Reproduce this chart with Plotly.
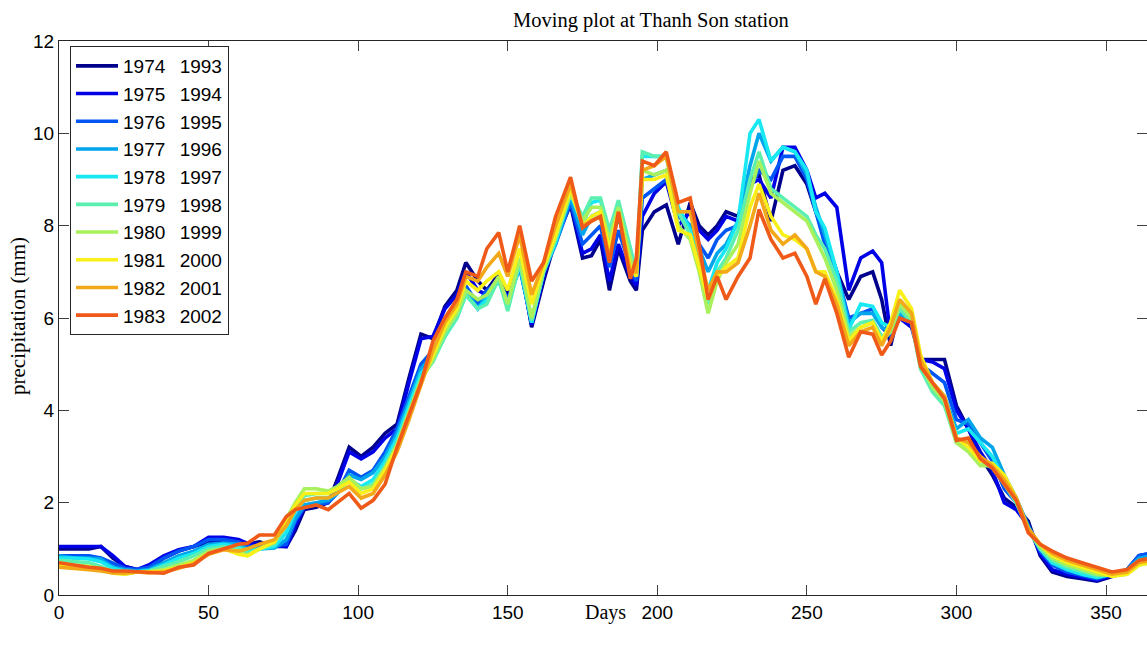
import plotly.graph_objects as go

DAYS = [0, 5, 10, 14, 18, 22, 26, 30, 35, 40,
        45, 50, 55, 60, 63, 67, 72, 76, 79, 82,
        86, 90, 93, 97, 101, 105, 109, 113, 117, 121,
        125, 129, 133, 136, 140, 143, 147, 150, 154, 158,
        162, 166, 171, 175, 178, 181, 184, 187, 191, 193,
        195, 199, 203, 207, 211, 214, 217, 220, 223, 227,
        231, 234, 238, 242, 246, 250, 253, 256, 260, 264,
        268, 272, 275, 278, 281, 285, 288, 292, 296, 300,
        304, 308, 312, 316, 320, 324, 328, 332, 337, 342,
        347, 352, 357, 361, 365]

Y1974 = [1.0, 1.0, 1.0, 1.05, 0.8, 0.62, 0.55, 0.55, 0.8, 0.95,
         1.05, 1.15, 1.2, 1.15, 1.1, 1.15, 1.05, 1.05, 1.4, 1.85,
         1.9, 2.0, 2.5, 3.2, 3.0, 3.2, 3.5, 3.7, 4.7, 5.65,
         5.55, 6.25, 6.6, 7.2, 6.8, 6.6, 6.95, 6.5, 7.25, 5.8,
         6.8, 7.7, 8.45, 7.3, 7.35, 7.7, 6.6, 7.5, 6.8, 6.6,
         7.9, 8.3, 8.45, 7.6, 8.5, 8.0, 7.8, 8.0, 8.3, 8.2,
         9.0, 9.1, 8.1, 9.2, 9.3, 8.9, 8.3, 7.8, 7.0, 6.4,
         6.9, 7.0, 6.4, 5.4, 6.2, 5.9, 5.1, 5.1, 5.1, 4.1,
         3.6, 3.0, 2.6, 2.1, 1.9, 1.6, 0.85, 0.5, 0.4, 0.35,
         0.3, 0.4, 0.5, 0.8, 0.85]
Y1975 = [1.05, 1.05, 1.05, 1.05, 0.85, 0.62, 0.55, 0.65, 0.85, 0.98,
         1.05, 1.25, 1.25, 1.2, 1.12, 1.1, 1.08, 1.05, 1.5, 1.9,
         1.95, 2.0, 2.4, 3.1, 2.95, 3.1, 3.4, 3.6, 4.6, 5.55,
         5.6, 6.2, 6.5, 7.0, 6.6, 6.5, 6.9, 6.4, 7.2, 5.85,
         6.9, 7.7, 8.5, 7.4, 7.5, 7.8, 6.8, 7.6, 6.9, 6.7,
         8.2, 8.7, 8.95, 8.0, 8.3, 7.9, 7.7, 7.9, 8.2, 8.1,
         8.9, 9.0, 8.6, 9.7, 9.7, 9.2, 8.6, 8.7, 8.4, 6.6,
         7.3, 7.45, 7.2, 5.6, 6.0, 5.8, 5.1, 5.05, 4.9, 4.0,
         3.6, 3.1, 2.7, 2.0, 1.85, 1.5, 0.9, 0.55, 0.45, 0.38,
         0.32, 0.42, 0.55, 0.85, 0.9]
Y1976 = [0.85, 0.85, 0.85, 0.8, 0.68, 0.58, 0.55, 0.6, 0.8, 0.95,
         1.05, 1.2, 1.2, 1.15, 1.05, 1.05, 1.05, 1.1, 1.6, 1.9,
         1.95, 2.0, 2.2, 2.7, 2.55, 2.7, 3.1, 3.6, 4.3, 5.0,
         5.3, 5.8, 6.2, 6.7, 6.3, 6.6, 6.8, 6.4, 7.1, 5.9,
         7.0, 7.6, 8.5, 7.6, 7.8, 8.0, 7.1, 7.9, 7.1, 6.8,
         8.6, 8.8, 9.0, 8.2, 8.0, 7.6, 7.3, 7.7, 7.9, 8.0,
         8.8, 9.2, 9.0, 9.5, 9.5, 9.0, 8.3, 7.6, 7.0, 6.0,
         6.1, 6.2, 5.8, 5.6, 6.0, 5.9, 5.0, 4.8, 4.6, 3.8,
         3.7, 3.3, 2.9, 2.3, 2.0, 1.5, 0.95, 0.65, 0.5, 0.42,
         0.35, 0.45, 0.55, 0.85, 0.9]
Y1977 = [0.85, 0.8, 0.8, 0.78, 0.6, 0.55, 0.52, 0.55, 0.7, 0.85,
         0.95, 1.1, 1.12, 1.1, 1.0, 1.0, 1.02, 1.2, 1.65, 1.95,
         2.0, 2.05, 2.2, 2.6, 2.5, 2.65, 3.0, 3.5, 4.2, 4.9,
         5.2, 5.7, 6.1, 6.6, 6.2, 6.5, 6.8, 6.3, 7.1, 5.9,
         7.0, 7.6, 8.6, 7.8, 8.2, 8.3, 7.5, 8.2, 7.3, 6.9,
         9.0, 9.1, 9.2, 8.3, 8.0, 7.5, 7.0, 7.4, 7.6, 8.1,
         9.3, 10.0, 9.4, 9.7, 9.6, 9.1, 8.4, 7.8, 7.0, 5.9,
         6.1, 6.1, 5.8, 5.7, 6.1, 5.9, 5.0, 4.6, 4.3, 3.6,
         3.8, 3.4, 3.2, 2.6, 2.1, 1.5, 1.0, 0.7, 0.55, 0.45,
         0.38, 0.45, 0.55, 0.8, 0.85]
Y1978 = [0.8, 0.8, 0.78, 0.72, 0.58, 0.52, 0.5, 0.52, 0.65, 0.8,
         0.9, 1.05, 1.1, 1.05, 0.95, 1.0, 1.05, 1.35, 1.8, 2.05,
         2.1, 2.1, 2.2, 2.5, 2.35, 2.5, 2.9, 3.4, 4.1, 4.8,
         5.1, 5.6, 6.0, 6.5, 6.2, 6.4, 6.85, 6.2, 7.2, 5.9,
         7.0, 7.65, 8.7, 8.0, 8.5, 8.55, 7.8, 8.5, 7.5, 7.0,
         9.5, 9.5, 9.5, 8.4, 7.9, 7.2, 6.6, 7.2, 7.5, 8.1,
         10.0, 10.3, 9.4, 9.7, 9.6, 9.2, 8.3, 7.95, 7.0, 5.75,
         6.3, 6.25, 5.9, 5.8, 6.3, 6.0, 5.0, 4.5, 4.2, 3.5,
         3.6, 3.3, 3.0, 2.5, 2.0, 1.45, 1.0, 0.7, 0.55, 0.45,
         0.38, 0.45, 0.5, 0.75, 0.8]
Y1979 = [0.75, 0.72, 0.7, 0.62, 0.52, 0.48, 0.5, 0.52, 0.62, 0.72,
         0.85, 1.0, 1.05, 1.0, 0.9, 0.98, 1.1, 1.5, 1.9, 2.15,
         2.2, 2.2, 2.3, 2.5, 2.3, 2.4, 2.8, 3.3, 4.0, 4.7,
         5.05, 5.6, 6.0, 6.5, 6.2, 6.3, 6.85, 6.15, 7.2, 5.95,
         7.0, 7.7, 8.7, 8.2, 8.6, 8.6, 7.9, 8.55, 7.5, 6.9,
         9.6, 9.5, 9.5, 8.3, 7.8, 7.1, 6.3, 7.0, 7.3, 7.9,
         9.0, 9.6, 8.8, 8.6, 8.4, 8.2, 7.8, 7.5, 6.8, 5.7,
         5.9, 5.95, 5.6, 5.7, 6.2, 5.9, 4.9, 4.4, 4.1, 3.3,
         3.2, 2.9, 2.75, 2.4, 2.0, 1.4, 1.0, 0.75, 0.6, 0.5,
         0.42, 0.45, 0.5, 0.7, 0.75]
Y1980 = [0.7, 0.65, 0.62, 0.58, 0.5, 0.45, 0.5, 0.5, 0.55, 0.65,
         0.75, 0.95, 1.0, 0.95, 0.85, 1.0, 1.15, 1.65, 2.0, 2.3,
         2.3, 2.25, 2.35, 2.55, 2.3, 2.35, 2.75, 3.25, 3.95, 4.65,
         5.1, 5.7, 6.1, 6.6, 6.4, 6.5, 6.9, 6.3, 7.3, 6.0,
         7.05, 7.75, 8.7, 8.1, 8.4, 8.4, 7.7, 8.4, 7.3, 6.9,
         9.2, 9.1, 9.2, 8.0, 7.7, 7.0, 6.1, 6.8, 7.2, 7.6,
         8.7, 9.4, 8.7, 8.5, 8.3, 8.1, 7.7, 7.3, 6.6, 5.6,
         5.8, 5.9, 5.5, 5.7, 6.3, 6.0, 5.0, 4.5, 4.2, 3.3,
         3.1, 2.8, 2.8, 2.5, 2.05, 1.4, 1.05, 0.8, 0.65, 0.55,
         0.45, 0.42, 0.45, 0.65, 0.7]
Y1981 = [0.65, 0.6, 0.6, 0.55, 0.47, 0.45, 0.5, 0.5, 0.52, 0.6,
         0.7, 0.9, 1.0, 0.88, 0.85, 1.0, 1.15, 1.6, 1.95, 2.2,
         2.2, 2.2, 2.3, 2.45, 2.2, 2.3, 2.7, 3.2, 3.9, 4.6,
         5.2, 5.8, 6.2, 6.8, 6.6, 6.8, 7.0, 6.6, 7.5, 6.3,
         7.1, 7.8, 8.8, 8.0, 8.2, 8.3, 7.5, 8.3, 7.1, 6.9,
         9.0, 9.0, 9.1, 7.9, 7.8, 7.1, 6.4, 6.9, 7.1, 7.3,
         8.4, 8.9, 8.2, 7.8, 7.7, 7.5, 7.0, 7.0, 6.4, 5.5,
         5.8, 5.9, 5.5, 5.9, 6.6, 6.2, 5.2, 4.6, 4.3, 3.4,
         3.2, 2.9, 2.85, 2.6, 2.1, 1.4, 1.1, 0.85, 0.7, 0.6,
         0.5, 0.4, 0.45, 0.65, 0.7]
Y1982 = [0.6, 0.58, 0.55, 0.52, 0.48, 0.47, 0.5, 0.48, 0.5, 0.58,
         0.68, 0.88, 0.98, 0.95, 1.0, 1.1, 1.2, 1.5, 1.85, 2.05,
         2.1, 2.1, 2.2, 2.35, 2.1, 2.2, 2.6, 3.1, 3.8, 4.55,
         5.3, 5.9, 6.3, 6.9, 6.8, 7.1, 7.4, 6.9, 7.8, 6.5,
         7.2, 8.0, 8.9, 8.0, 8.1, 8.2, 7.3, 8.3, 7.0, 7.0,
         9.2, 9.3, 9.5, 8.3, 8.3, 7.4, 6.6, 7.0, 7.0, 7.2,
         8.0, 8.7, 7.9, 7.6, 7.8, 7.5, 7.0, 6.9, 6.3, 5.4,
         5.7, 5.8, 5.4, 5.8, 6.4, 6.1, 5.1, 4.6, 4.3, 3.4,
         3.3, 3.0, 2.8, 2.5, 2.1, 1.45, 1.1, 0.9, 0.75, 0.65,
         0.55, 0.45, 0.5, 0.7, 0.75]
Y1983 = [0.7, 0.65, 0.6, 0.58, 0.52, 0.52, 0.5, 0.48, 0.47, 0.6,
         0.65, 0.9, 1.0, 1.1, 1.12, 1.3, 1.3, 1.7, 1.85, 1.9,
         1.95, 1.85, 2.0, 2.2, 1.88, 2.05, 2.4, 3.2, 3.9, 4.6,
         5.5, 6.0, 6.4, 7.0, 6.9, 7.5, 7.85, 7.0, 8.0, 6.8,
         7.2, 8.2, 9.05, 7.95, 8.1, 8.2, 7.2, 8.3, 6.85, 7.3,
         9.4, 9.3, 9.6, 8.5, 8.6, 7.6, 6.4, 6.9, 6.4, 6.9,
         7.3, 8.35, 7.7, 7.3, 7.4, 6.9, 6.3, 6.85, 6.1, 5.15,
         5.7, 5.65, 5.2, 5.5, 6.0, 5.9, 4.95, 4.6, 4.25, 3.35,
         3.4, 2.95, 2.75, 2.4, 2.05, 1.35, 1.1, 0.95, 0.8, 0.7,
         0.6, 0.5, 0.55, 0.75, 0.8]

SERIES = [Y1974, Y1975, Y1976, Y1977, Y1978, Y1979, Y1980, Y1981, Y1982, Y1983]
FIRST_YEARS = ["1974", "1975", "1976", "1977", "1978", "1979", "1980", "1981", "1982", "1983"]
SECOND_YEARS = ["1993", "1994", "1995", "1996", "1997", "1998", "1999", "2000", "2001", "2002"]
COLORS = ["#00008c", "#0000e6", "#0055f5", "#00a5ec", "#18e8f2",
          "#5cf0b0", "#a8f05c", "#f8f018", "#f2a818", "#f05a18"]

X_TICKS = [0, 50, 100, 150, 200, 250, 300, 350]
Y_TICKS = [0, 2, 4, 6, 8, 10, 12]

fig = go.Figure()
for vals, y1, y2, col in zip(SERIES, FIRST_YEARS, SECOND_YEARS, COLORS):
    fig.add_trace(go.Scatter(
        x=DAYS, y=vals, mode="lines",
        name=y1 + "\u00a0\u00a0\u2009" + y2,
        line=dict(color=col, width=3.6),
    ))

W, H = 1147, 649
L, R, T, B = 59, 0, 41, 54
pw = W - L - R
ph = H - T - B

SANS = "Liberation Sans, Arial, sans-serif"
SERIF = "Liberation Serif, Times New Roman, serif"

axis_common = dict(
    showline=True, linecolor="#262626", linewidth=1, mirror="ticks",
    ticks="inside", ticklen=10, tickcolor="#404040", tickwidth=1,
    showgrid=False, zeroline=False,
    tickfont=dict(family=SANS, size=19, color="#000000"),
)

fig.update_layout(
    width=W, height=H,
    margin=dict(l=L, r=R, t=T, b=B, pad=0),
    paper_bgcolor="white", plot_bgcolor="white",
    xaxis=dict(range=[0, 363.7], tickvals=X_TICKS, ticktext=[str(v) for v in X_TICKS], **axis_common),
    yaxis=dict(range=[0, 12], tickvals=Y_TICKS, ticktext=[str(v) for v in Y_TICKS], **axis_common),
    legend=dict(
        x=11 / pw, y=1 - 5 / ph, xanchor="left", yanchor="top",
        bgcolor="white", bordercolor="#262626", borderwidth=1,
        font=dict(family=SANS, size=19, color="#000000"),
        itemwidth=42, tracegroupgap=0,
    ),
    showlegend=True,
    annotations=[
        dict(text="Moving plot at Thanh Son station", xref="paper", yref="paper",
             x=(651 - L) / pw, y=(595 - 21) / ph, xanchor="center", yanchor="middle",
             showarrow=False, font=dict(family=SERIF, size=20.5, color="#000")),
        dict(text="Days", xref="paper", yref="paper",
             x=(605 - L) / pw, y=(595 - 612) / ph, xanchor="center", yanchor="middle",
             showarrow=False, font=dict(family=SERIF, size=20, color="#000")),
        dict(text="precipitation (mm)", xref="paper", yref="paper",
             x=(18 - L) / pw, y=(595 - 316) / ph, xanchor="center", yanchor="middle",
             textangle=-90, showarrow=False,
             font=dict(family=SERIF, size=21, color="#000")),
    ],
)

fig.write_html("out.html")
